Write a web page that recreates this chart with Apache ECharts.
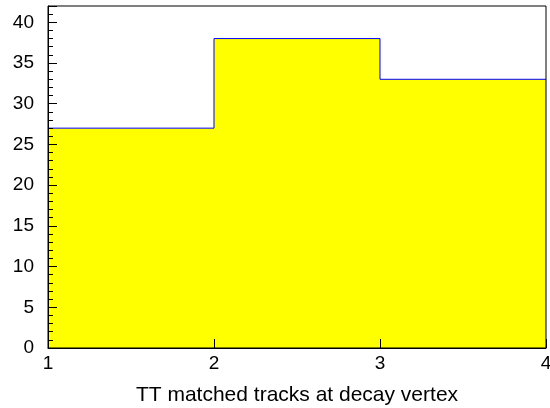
<!DOCTYPE html>
<html>
<head>
<meta charset="utf-8">
<script src="https://cdn.jsdelivr.net/npm/echarts@6/dist/echarts.min.js"></script>
<style>
  html, body { margin: 0; padding: 0; background: #fff; }
  #chart { width: 550px; height: 408px; }
</style>
</head>
<body>
<div id="chart"></div>
<script>
// Histogram: bin edges and counts per bin
const binEdges = [1, 2, 3, 4];
const binCounts = [27, 38, 33];
const xTitle = 'TT matched tracks at decay vertex';
const yMax = 42;

// Step outline points: each bin starts at its lower edge, last count held to the final edge
const stepData = binEdges.map((e, i) => [e, binCounts[Math.min(i, binCounts.length - 1)]]);

const font = '"Liberation Sans", Arial, Helvetica, sans-serif';
const chart = echarts.init(document.getElementById('chart'), null, { renderer: 'canvas' });

chart.setOption({
  animation: false,
  backgroundColor: '#ffffff',
  grid: {
    left: 48, top: 6, right: 4, bottom: 60, z: 4,
    outerBoundsMode: 'none',
    containLabel: false,
    show: true, borderColor: '#000', borderWidth: 1, backgroundColor: 'transparent'
  },
  xAxis: {
    type: 'value',
    z: 5,
    min: 1, max: 4, interval: 1,
    name: xTitle,
    nameLocation: 'middle',
    nameGap: 37,
    nameTextStyle: { color: '#000', fontFamily: font, fontSize: 21 },
    axisLine: { show: true, onZero: false, lineStyle: { color: '#000', width: 1 } },
    axisTick: { show: true, inside: true, length: 9, lineStyle: { color: '#000' } },
    axisLabel: { color: '#000', fontFamily: font, fontSize: 19, margin: 6 },
    splitLine: { show: false }
  },
  yAxis: {
    type: 'value',
    z: 5,
    min: 0, max: yMax, interval: 5,
    axisLine: { show: true, lineStyle: { color: '#000', width: 1 } },
    axisTick: { show: true, inside: true, length: 9, lineStyle: { color: '#000' } },
    minorTick: { show: true, splitNumber: 5, length: 5, lineStyle: { color: '#000' } },
    axisLabel: {
      color: '#000', fontFamily: font, fontSize: 19, margin: 14,
      formatter: v => (v % 5 === 0 ? String(v) : '')
    },
    splitLine: { show: false }
  },
  series: [{
    type: 'line',
    step: 'end',
    data: stepData,
    symbol: 'none',
    lineStyle: { color: '#0000ff', width: 1 },
    areaStyle: { color: '#ffff00', opacity: 1 },
    z: 1
  }]
});
</script>
</body>
</html>
